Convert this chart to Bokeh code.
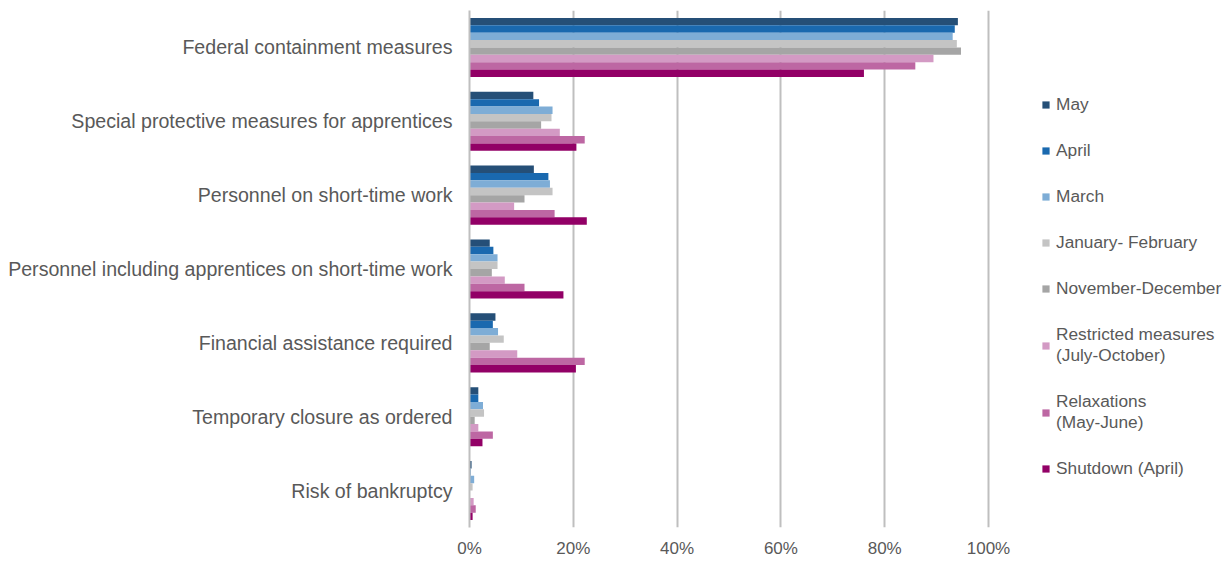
from bokeh.plotting import figure
from bokeh.models import ColumnDataSource, FactorRange, Range1d, PrintfTickFormatter, FixedTicker, Legend, LegendItem
from bokeh.transform import dodge
from bokeh.embed import file_html
from bokeh.resources import INLINE

categories = [
    "Federal containment measures",
    "Special protective measures for apprentices",
    "Personnel on short-time work",
    "Personnel including apprentices on short-time work",
    "Financial assistance required",
    "Temporary closure as ordered",
    "Risk of bankruptcy",
]

series_labels = [
    "May",
    "April",
    "March",
    "January- February",
    "November-December",
    "Restricted measures\n(July-October)",
    "Relaxations\n(May-June)",
    "Shutdown (April)",
]

may = [94.1, 12.3, 12.4, 3.9, 5.0, 1.7, 0.4]
april = [93.5, 13.4, 15.2, 4.6, 4.5, 1.7, 0.2]
march = [93.1, 16.0, 15.5, 5.4, 5.5, 2.6, 0.9]
jan_feb = [93.9, 15.8, 16.0, 5.4, 6.6, 2.8, 0.6]
nov_dec = [94.7, 13.8, 10.6, 4.3, 3.9, 1.0, 0.1]
restricted = [89.4, 17.4, 8.6, 6.8, 9.2, 1.7, 0.8]
relaxations = [85.9, 22.2, 16.4, 10.6, 22.2, 4.5, 1.2]
shutdown = [76.0, 20.6, 22.6, 18.1, 20.5, 2.5, 0.6]

colors = ["#254F77", "#1A69AF", "#7EADD6", "#C4C4C4", "#A5A5A5", "#D39AC4", "#BD67A3", "#920066"]

x_ticks = [0, 20, 40, 60, 80, 100]

all_series = [may, april, march, jan_feb, nov_dec, restricted, relaxations, shutdown]

FONT = "Liberation Sans"
TXT = "#595959"

W = 1226
LEFT = 469
FRAME_W = W - LEFT
X_END = 100 * FRAME_W / 519.0

p = figure(
    width=W, height=560,
    y_range=FactorRange(factors=list(reversed(categories))),
    x_range=Range1d(0, X_END),
    output_backend="svg", toolbar_location=None,
    min_border_left=LEFT, min_border_right=0, min_border_top=10, min_border_bottom=29,
)
p.outline_line_color = None

bar_h = 0.1
items = []
for i, (lab, vals, col) in enumerate(zip(series_labels, all_series, colors)):
    src = ColumnDataSource(dict(cat=categories, val=vals))
    off = 0.35 - bar_h * i
    r = p.hbar(y=dodge("cat", off, range=p.y_range), left=0, right="val", height=bar_h,
               fill_color=col, line_color=None, source=src)
    items.append(LegendItem(label=lab, renderers=[r]))

p.xaxis.ticker = FixedTicker(ticks=x_ticks)
p.xaxis.formatter = PrintfTickFormatter(format="%d%%")
p.xaxis.axis_line_color = None
p.xaxis.major_tick_line_color = None
p.xaxis.minor_tick_line_color = None
p.xaxis.major_label_standoff = 5
p.xaxis.major_label_text_font = FONT
p.xaxis.major_label_text_font_size = "17px"
p.xaxis.major_label_text_color = TXT

p.yaxis.axis_line_color = "#BFBFBF"
p.yaxis.axis_line_width = 2
p.yaxis.major_tick_line_color = None
p.yaxis.minor_tick_line_color = None
p.yaxis.major_label_standoff = 11
p.yaxis.major_label_text_font = FONT
p.yaxis.major_label_text_font_size = "19.6px"
p.yaxis.major_label_text_color = TXT

p.xgrid.grid_line_color = "#BFBFBF"
p.xgrid.grid_line_width = 2
p.ygrid.grid_line_color = None

leg = Legend(items=items, location=(572, 48))
leg.border_line_color = None
leg.background_fill_alpha = 0
leg.padding = 0
leg.margin = 0
leg.glyph_width = 9
leg.glyph_height = 9
leg.label_standoff = 6
leg.label_height = 17
leg.spacing = 25
leg.label_text_font = FONT
leg.label_text_font_size = "17.3px"
leg.label_text_line_height = 1.2
leg.label_text_color = TXT
p.add_layout(leg)

open("out.html", "w").write(file_html(p, INLINE))
